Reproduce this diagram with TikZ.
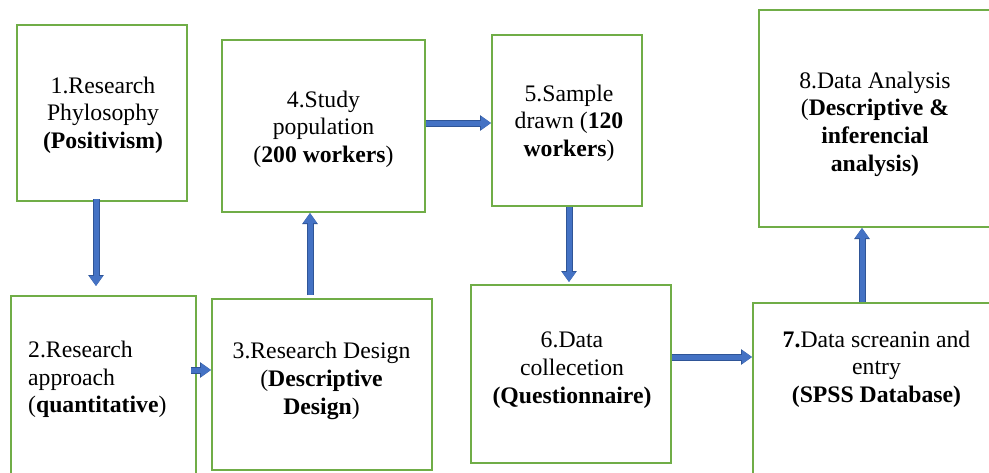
\documentclass[tikz,border=0pt]{standalone}
\usepackage{fontspec}
\setmainfont{Liberation Serif}
\usetikzlibrary{arrows.meta}
\definecolor{boxgreen}{HTML}{70AD47}
\definecolor{arrfill}{HTML}{4472C4}
\definecolor{arrdark}{HTML}{2F5597}
\begin{document}
\begin{tikzpicture}[x=1pt,y=-1pt,
  box/.style={draw=boxgreen, line width=2pt, fill=white, inner sep=0pt},
  lbl/.style={align=center, font=\fontsize{23.7}{27.7}\selectfont, inner sep=0pt},
  flow/.style={line width=5pt, draw=arrfill, -{Triangle[length=10pt,width=13pt]},
    preaction={draw=arrdark, line width=7pt, -{Triangle[length=11pt,width=15pt]}}}]
\useasboundingbox (0,0) rectangle (989,472);
\clip (0,0) rectangle (989,472);
\fill[white] (0,0) rectangle (989,472);
% boxes
\node[box, minimum width=170pt, minimum height=176pt] (b1) at (102,113) {};
\node[box, minimum width=185pt, minimum height=184pt] (b2) at (103.5,388) {};
\node[box, minimum width=220pt, minimum height=171pt] (b3) at (322,384.5) {};
\node[box, minimum width=203pt, minimum height=172pt] (b4) at (323.5,126) {};
\node[box, minimum width=150pt, minimum height=171pt] (b5) at (567,120.5) {};
\node[box, minimum width=200pt, minimum height=178pt] (b6) at (571,374) {};
\node[box, minimum width=247pt, minimum height=177pt] (b7) at (876.5,391.5) {};
\node[box, minimum width=241pt, minimum height=217pt] (b8) at (879.5,118.5) {};
% texts
\node[lbl] (t1) at (103,115) {1.Research\\Phylosophy\\\textbf{(Positivism)}};
\node[lbl, align=left, anchor=west] (t2) at (28,379.5) {2.Research\\approach\\(\textbf{quantitative})};
\node[lbl] (t3) at (321.5,381) {3.Research Design\\(\textbf{Descriptive}\\\textbf{Design})};
\node[lbl] (t4) at (323.5,129) {4.Study\\population\\(\textbf{200 workers})};
\node[lbl] (t5) at (569,123) {5.Sample\\drawn (\textbf{120}\\\textbf{workers})};
\node[lbl] (t6) at (572,370) {6.Data\\collecetion\\\textbf{(Questionnaire)}};
\node[lbl] (t7) at (876.5,369) {\textbf{7.}Data screanin and\\entry\\\textbf{(SPSS Database)}};
\node[lbl] (t8) at (875,124) {8.Data Analysis\\(\textbf{Descriptive \&}\\\textbf{inferencial}\\\textbf{analysis)}};
% connectors
\draw[flow] ([xshift=-6pt,yshift=3pt]b1.south) -- ([xshift=-7.5pt,yshift=9pt]b2.north);
\draw[flow] ([xshift=-6pt,yshift=18pt]b2.east) -- ([yshift=14.5pt]b3.west);
\draw[flow] ([xshift=-12pt,yshift=3pt]b3.north) -- ([xshift=-13.5pt]b4.south);
\draw[flow] ([yshift=3pt]b4.east) -- ([yshift=-2.5pt]b5.west);
\draw[flow] ([xshift=2pt]b5.south) -- ([xshift=-2pt,yshift=2pt]b6.north);
\draw[flow] ([yshift=17pt]b6.east) -- ([yshift=34.5pt]b7.west);
\draw[flow] ([xshift=-14.5pt]b7.north) -- ([xshift=-17.5pt]b8.south);
\end{tikzpicture}
\end{document}
